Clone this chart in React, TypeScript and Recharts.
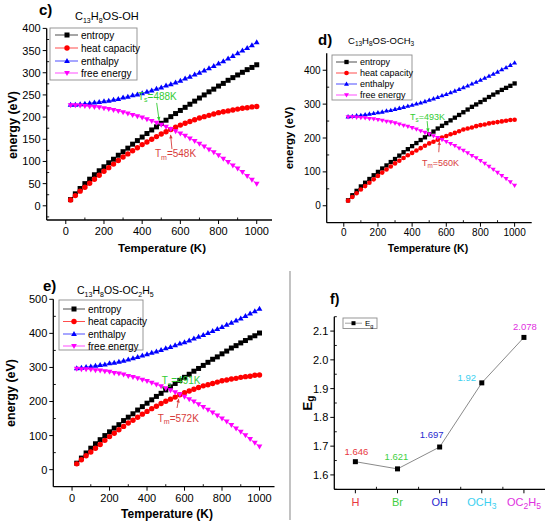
import React from 'react';
import { LineChart, Line, XAxis, YAxis, ReferenceDot, ReferenceLine, LabelList } from 'recharts';

const FONT = '"Liberation Sans", Arial, Helvetica, sans-serif';
const W = 550;
const H = 526;

// ---------------- data ----------------
const temperatures = [25, 50, 75, 100, 125, 150, 175, 200, 225, 250, 275, 300, 325, 350, 375, 400, 425, 450, 475, 500, 525, 550, 575, 600, 625, 650, 675, 700, 725, 750, 775, 800, 825, 850, 875, 900, 925, 950, 975, 1000];

const ohEntropy = [14, 27, 39, 50, 60, 70, 79, 88, 97, 105, 114, 122, 130, 139, 147, 155, 163, 171, 178, 186, 193, 201, 208, 215, 222, 229, 236, 243, 250, 257, 263, 270, 276, 283, 289, 295, 301, 307, 312, 318];
const ohHeatCapacity = [13, 23, 33, 42, 51, 60, 69, 78, 86, 94, 102, 110, 117, 124, 131, 138, 144, 150, 156, 162, 167, 172, 177, 182, 186, 190, 194, 198, 201, 204, 207, 210, 212, 214, 216, 218, 220, 221, 223, 224];
const ohEnthalpy = [228, 228, 229, 230, 231, 233, 234, 236, 237, 239, 241, 244, 246, 249, 251, 254, 257, 260, 264, 267, 271, 274, 278, 282, 287, 291, 296, 300, 305, 310, 315, 321, 326, 332, 338, 344, 350, 356, 362, 369];
const ohFreeEnergy = [227, 227, 226, 225, 224, 223, 222, 220, 218, 216, 214, 211, 208, 205, 202, 199, 195, 191, 187, 183, 178, 173, 168, 163, 158, 152, 146, 140, 134, 127, 121, 114, 106, 99, 91, 84, 76, 67, 59, 50];

const och3Entropy = [16, 31, 44, 57, 68, 79, 90, 100, 110, 119, 129, 138, 148, 158, 167, 176, 185, 194, 202, 211, 219, 228, 236, 244, 252, 260, 268, 276, 284, 292, 299, 306, 313, 321, 328, 335, 342, 348, 354, 361];
const och3HeatCapacity = [15, 26, 37, 48, 58, 68, 78, 88, 98, 107, 116, 125, 133, 141, 149, 156, 163, 170, 177, 184, 189, 195, 201, 206, 211, 215, 220, 225, 228, 231, 235, 238, 240, 243, 245, 247, 249, 251, 253, 254];
const och3Enthalpy = [263, 264, 266, 267, 269, 271, 273, 275, 277, 280, 282, 285, 288, 291, 294, 297, 301, 304, 308, 312, 316, 320, 325, 329, 334, 339, 344, 349, 354, 360, 365, 371, 377, 383, 389, 395, 402, 408, 415, 422];
const och3FreeEnergy = [262, 262, 261, 260, 259, 257, 256, 254, 252, 249, 247, 244, 241, 237, 234, 230, 226, 221, 216, 212, 206, 201, 195, 189, 183, 177, 170, 163, 156, 148, 141, 133, 125, 116, 107, 98, 89, 80, 70, 60];

const oc2h5Entropy = [19, 34, 49, 63, 76, 88, 100, 111, 122, 132, 144, 154, 164, 175, 185, 195, 205, 215, 224, 234, 243, 253, 262, 271, 280, 289, 297, 306, 315, 324, 331, 340, 348, 357, 364, 372, 379, 387, 393, 401];
const oc2h5HeatCapacity = [17, 29, 41, 52, 63, 74, 86, 97, 107, 117, 127, 137, 145, 154, 163, 171, 179, 186, 194, 201, 207, 213, 220, 226, 231, 236, 241, 246, 249, 253, 257, 261, 263, 266, 268, 271, 273, 274, 277, 278];
const oc2h5Enthalpy = [298, 299, 301, 303, 305, 307, 309, 312, 314, 317, 320, 323, 327, 331, 335, 339, 343, 347, 351, 356, 360, 365, 370, 374, 379, 385, 390, 395, 401, 407, 413, 419, 425, 431, 438, 444, 451, 458, 465, 472];
const oc2h5FreeEnergy = [296, 295, 295, 294, 292, 291, 289, 287, 284, 282, 279, 275, 272, 268, 264, 260, 255, 250, 245, 239, 233, 227, 221, 214, 207, 200, 192, 184, 176, 168, 159, 150, 141, 131, 121, 111, 101, 90, 79, 68];

const substituents = ['H', 'Br', 'OH', 'OCH3', 'OC2H5'];
const bandGap = [1.646, 1.621, 1.697, 1.92, 2.078];

const seriesNames = ['entropy', 'heat capacity', 'enthalpy', 'free energy'];
const seriesKeys = ['S', 'Cp', 'H', 'G'];

// ---------------- styles ----------------
const seriesColors = ['#000000', '#ff0000', '#0000ff', '#ff00ff'];
const seriesShapes = ['square', 'circle', 'up', 'down'];
const substituentColors = ['#e8383d', '#3fcf3f', '#2a2ad0', '#3cd0f0', '#e030e0'];
const gapLabelOffsets = [[1, -7], [-1, -9], [-8, -9], [-15, -2], [1, -7]];
const TS_COLOR = '#33cc33';
const TM_COLOR = '#d83c3c';

function buildRows(s: number[], cp: number[], h: number[], g: number[]) {
  return temperatures.map((t, i) => ({ T: t, S: s[i], Cp: cp[i], H: h[i], G: g[i] }));
}

const rowsOH = buildRows(ohEntropy, ohHeatCapacity, ohEnthalpy, ohFreeEnergy);
const rowsOCH3 = buildRows(och3Entropy, och3HeatCapacity, och3Enthalpy, och3FreeEnergy);
const rowsOC2H5 = buildRows(oc2h5Entropy, oc2h5HeatCapacity, oc2h5Enthalpy, oc2h5FreeEnergy);
const rowsGap = substituents.map((s, i) => ({ pos: i + 1, eg: bandGap[i], name: s }));

// ---------------- helpers ----------------
function rich(text: string, sub: number, shift: number) {
  const out: any[] = [];
  const re = /_\{([^}]*)\}/g;
  let last = 0;
  let m: RegExpExecArray | null;
  let k = 0;
  let lowered = false;
  while ((m = re.exec(text))) {
    if (m.index > last) {
      out.push(<tspan key={k++} dy={lowered ? -shift : 0}>{text.slice(last, m.index)}</tspan>);
      lowered = false;
    }
    out.push(<tspan key={k++} fontSize={sub} dy={lowered ? 0 : shift}>{m[1]}</tspan>);
    lowered = true;
    last = re.lastIndex;
  }
  if (last < text.length) out.push(<tspan key={k++} dy={lowered ? -shift : 0}>{text.slice(last)}</tspan>);
  return out;
}

function markerEl(shape: string, color: string, size: number, cx: number, cy: number, key: any) {
  const h = size / 2;
  if (shape === 'square') return <rect key={key} x={cx - h} y={cy - h} width={size} height={size} fill={color} />;
  if (shape === 'circle') return <circle key={key} cx={cx} cy={cy} r={h * 1.08} fill={color} />;
  if (shape === 'up')
    return <polygon key={key} points={`${cx},${cy - h * 1.2} ${cx - h * 1.15},${cy + h * 0.8} ${cx + h * 1.15},${cy + h * 0.8}`} fill={color} />;
  return <polygon key={key} points={`${cx},${cy + h * 1.2} ${cx - h * 1.15},${cy - h * 0.8} ${cx + h * 1.15},${cy - h * 0.8}`} fill={color} />;
}

function dotRenderer(shape: string, color: string, size: number) {
  return (p: any) => {
    const { cx, cy, index } = p;
    if (cx == null || cy == null || isNaN(cx) || isNaN(cy)) return <g key={`e${index}`} />;
    return markerEl(shape, color, size, cx, cy, `d${index}`);
  };
}

function makeXTick(majors: number[], fontSize: number, gap: number) {
  return (p: any) => {
    const { x, y, payload } = p;
    const v = payload.value;
    const major = majors.some((m) => Math.abs(m - v) < 1e-9);
    if (!major) return <line x1={x} x2={x} y1={y} y2={y - 2.5} stroke="#000" strokeWidth={0.9} />;
    return (
      <g>
        <line x1={x} x2={x} y1={y} y2={y + 4} stroke="#000" strokeWidth={1} />
        <text x={x} y={y + gap} textAnchor="middle" fontSize={fontSize} fontFamily={FONT} fill="#000">
          {v}
        </text>
      </g>
    );
  };
}

function makeYTick(majors: number[], fontSize: number, fmt: (v: number) => string) {
  return (p: any) => {
    const { x, y, payload } = p;
    const v = payload.value;
    const major = majors.some((m) => Math.abs(m - v) < 1e-9);
    if (!major) return <line x1={x} x2={x + 2.5} y1={y} y2={y} stroke="#000" strokeWidth={0.9} />;
    return (
      <g>
        <line x1={x} x2={x - 4} y1={y} y2={y} stroke="#000" strokeWidth={1} />
        <text x={x - 6} y={y} dy="0.36em" textAnchor="end" fontSize={fontSize} fontFamily={FONT} fill="#000">
          {fmt(v)}
        </text>
      </g>
    );
  };
}

function arrowShape(color: string) {
  return (p: any) => {
    const { x1, y1, x2, y2 } = p;
    const ang = Math.atan2(y2 - y1, x2 - x1);
    const L = 4;
    const a1 = ang + Math.PI - 0.45;
    const a2 = ang + Math.PI + 0.45;
    return (
      <g>
        <line x1={x1} y1={y1} x2={x2} y2={y2} stroke={color} strokeWidth={0.9} />
        <polygon
          points={`${x2},${y2} ${x2 + L * Math.cos(a1)},${y2 + L * Math.sin(a1)} ${x2 + L * Math.cos(a2)},${y2 + L * Math.sin(a2)}`}
          fill={color}
        />
      </g>
    );
  };
}

function textShape(label: string, color: string, fontSize: number) {
  return (p: any) => (
    <text x={p.cx} y={p.cy} fill={color} fontSize={fontSize} fontFamily={FONT}>
      {rich(label, fontSize * 0.7, fontSize * 0.25)}
    </text>
  );
}

type Ann = { label: string; text: [number, number]; from: [number, number]; to: [number, number]; color: string };

type EnergyProps = {
  rows: any[];
  box: { L: number; T: number; R: number; B: number };
  xDomain: [number, number];
  yDomain: [number, number];
  xMajors: number[];
  xMinors: number[];
  yMajors: number[];
  yMinors: number[];
  tickFont: number;
  xGap: number;
  mSize: number;
  anns: Ann[];
  annFont: number;
};

function EnergyChart(props: EnergyProps) {
  const { rows, box, xDomain, yDomain, xMajors, xMinors, yMajors, yMinors, tickFont, xGap, mSize, anns, annFont } = props;
  return (
    <div style={{ position: 'absolute', left: 0, top: 0 }}>
      <LineChart width={W} height={H} data={rows} margin={{ top: box.T, right: W - box.R, bottom: 0, left: 0 }}>
        <XAxis
          dataKey="T"
          type="number"
          domain={xDomain}
          allowDataOverflow
          ticks={[...xMajors, ...xMinors]}
          interval={0}
          height={H - box.B}
          tickSize={0}
          tickMargin={0}
          tickLine={false}
          axisLine={{ stroke: '#000', strokeWidth: 1.3 }}
          tick={makeXTick(xMajors, tickFont, xGap)}
        />
        <YAxis
          type="number"
          domain={yDomain}
          allowDataOverflow
          ticks={[...yMajors, ...yMinors]}
          interval={0}
          width={box.L}
          tickSize={0}
          tickMargin={0}
          tickLine={false}
          axisLine={{ stroke: '#000', strokeWidth: 1.3 }}
          tick={makeYTick(yMajors, tickFont, (v) => String(v))}
        />
        {seriesKeys.map((k, i) => (
          <Line
            key={k}
            dataKey={k}
            type="linear"
            stroke={seriesColors[i]}
            strokeWidth={0.7}
            dot={dotRenderer(seriesShapes[i], seriesColors[i], mSize)}
            activeDot={false}
            isAnimationActive={false}
          />
        ))}
        {anns.map((a, i) => (
          <ReferenceLine
            key={`al${i}`}
            segment={[{ x: a.from[0], y: a.from[1] }, { x: a.to[0], y: a.to[1] }]}
            shape={arrowShape(a.color)}
          />
        ))}
        {anns.map((a, i) => (
          <ReferenceDot key={`at${i}`} x={a.text[0]} y={a.text[1]} r={0} shape={textShape(a.label, a.color, annFont)} />
        ))}
      </LineChart>
    </div>
  );
}

function GapChart() {
  const box = { L: 334.3, T: 316.7, R: 545, B: 489.3 };
  const majorsX = [1, 2, 3, 4, 5];
  const minorsX = [1.5, 2.5, 3.5, 4.5];
  const majorsY = [1.6, 1.7, 1.8, 1.9, 2.0, 2.1];
  const minorsY = [1.55, 1.65, 1.75, 1.85, 1.95, 2.05, 2.15];
  const xTick = (p: any) => {
    const { x, y, payload } = p;
    const v = payload.value;
    const major = Math.abs(v - Math.round(v)) < 1e-9;
    if (!major) return <line x1={x} x2={x} y1={y} y2={y - 2.5} stroke="#000" strokeWidth={0.9} />;
    const idx = Math.round(v) - 1;
    const label = substituents[idx].replace(/(\d+)/g, '_{$1}');
    return (
      <g>
        <line x1={x} x2={x} y1={y} y2={y + 4} stroke="#000" strokeWidth={1} />
        <text x={x} y={y + 17} textAnchor="middle" fontSize={11} fontFamily={FONT} fill={substituentColors[idx]}>
          {rich(label, 8.5, 3)}
        </text>
      </g>
    );
  };
  return (
    <div style={{ position: 'absolute', left: 0, top: 0 }}>
      <LineChart width={W} height={H} data={rowsGap} margin={{ top: box.T, right: W - box.R, bottom: 0, left: 0 }}>
        <XAxis
          dataKey="pos"
          type="number"
          domain={[0.5, 5.5]}
          allowDataOverflow
          ticks={[...majorsX, ...minorsX]}
          interval={0}
          height={H - box.B}
          tickSize={0}
          tickMargin={0}
          tickLine={false}
          axisLine={{ stroke: '#000', strokeWidth: 1.3 }}
          tick={xTick}
        />
        <YAxis
          type="number"
          domain={[1.55, 2.15]}
          allowDataOverflow
          ticks={[...majorsY, ...minorsY]}
          interval={0}
          width={box.L}
          tickSize={0}
          tickMargin={0}
          tickLine={false}
          axisLine={{ stroke: '#000', strokeWidth: 1.3 }}
          tick={makeYTick(majorsY, 11, (v) => v.toFixed(1))}
        />
        <Line
          dataKey="eg"
          type="linear"
          stroke="#8a8a8a"
          strokeWidth={1}
          dot={dotRenderer('square', '#000', 5)}
          activeDot={false}
          isAnimationActive={false}
        >
          <LabelList
            dataKey="eg"
            content={(p: any) => {
              const i = p.index;
              const off = gapLabelOffsets[i] || [0, -8];
              return (
                <text
                  x={p.x + off[0]}
                  y={p.y + off[1]}
                  textAnchor="middle"
                  fontSize={9.5}
                  fontFamily={FONT}
                  fill={substituentColors[i]}
                >
                  {String(p.value)}
                </text>
              );
            }}
          />
        </Line>
      </LineChart>
    </div>
  );
}

function Legend({ x, y, w, h, rows, lineX, markX, textX, fontSize, mSize }: any) {
  return (
    <g>
      <rect x={x} y={y} width={w} height={h} fill="#fff" stroke="#8c8c8c" strokeWidth={0.9} />
      {seriesNames.map((n, i) => (
        <g key={n}>
          <line x1={lineX[0]} x2={lineX[1]} y1={rows[i]} y2={rows[i]} stroke={seriesColors[i]} strokeWidth={0.7} />
          {markerEl(seriesShapes[i], seriesColors[i], mSize, markX, rows[i], 'm')}
          <text x={textX} y={rows[i]} dy="0.35em" fontSize={fontSize} fontFamily={FONT} fill="#000">
            {n}
          </text>
        </g>
      ))}
    </g>
  );
}

function Overlay() {
  return (
    <svg width={W} height={H} style={{ position: 'absolute', left: 0, top: 0, pointerEvents: 'none' }} fontFamily={FONT}>
      {/* panel c */}
      <text x={39} y={15} fontSize={15} fontWeight="bold">c)</text>
      <text x={75} y={20} fontSize={11}>{rich('C_{13}H_{8}OS-OH', 7, 2.5)}</text>
      <text transform="translate(12.5,125) rotate(-90)" textAnchor="middle" dominantBaseline="central" fontSize={12.5} fontWeight="bold">
        energy (eV)
      </text>
      <text x={162} y={252} textAnchor="middle" fontSize={11.5} fontWeight="bold">Temperature (K)</text>
      <Legend x={50} y={28} w={87} h={52} rows={[35, 48, 61, 73]} lineX={[55, 78]} markX={67} textX={81} fontSize={10} mSize={5} />

      {/* panel d */}
      <text x={318} y={45} fontSize={15} fontWeight="bold">d)</text>
      <text x={348} y={44} fontSize={9.5}>{rich('C_{13}H_{8}OS-OCH_{3}', 6.5, 2.2)}</text>
      <text transform="translate(288.5,138) rotate(-90)" textAnchor="middle" dominantBaseline="central" fontSize={11.5} fontWeight="bold">
        energy (eV)
      </text>
      <text x={428} y={252} textAnchor="middle" fontSize={10.5} fontWeight="bold">Temperature (K)</text>
      <Legend x={332} y={55} w={80} h={45} rows={[62, 73, 84, 95]} lineX={[336, 357]} markX={346.5} textX={360} fontSize={9} mSize={4.3} />

      {/* panel e */}
      <text x={43} y={291} fontSize={15} fontWeight="bold">e)</text>
      <text x={77} y={294} fontSize={10.5}>{rich('C_{13}H_{8}OS-OC_{2}H_{5}', 7, 2.5)}</text>
      <text transform="translate(11,393) rotate(-90)" textAnchor="middle" dominantBaseline="central" fontSize={12.5} fontWeight="bold">
        energy (eV)
      </text>
      <text x={167} y={518} textAnchor="middle" fontSize={12} fontWeight="bold">Temperature (K)</text>
      <Legend x={59} y={300} w={84} h={50} rows={[309, 321.5, 334, 346]} lineX={[63, 85]} markX={74} textX={88} fontSize={10} mSize={5} />

      {/* panel f */}
      <line x1={290} x2={290} y1={271} y2={520} stroke="#9a9a9a" strokeWidth={1.2} />
      <text x={330} y={304} fontSize={14} fontWeight="bold">f)</text>
      <text transform="translate(307,403) rotate(-90)" textAnchor="middle" dominantBaseline="central" fontSize={13} fontWeight="bold">
        {rich('E_{g}', 10, 3)}
      </text>
      <rect x={343} y={318} width={34} height={10.5} fill="#fff" stroke="#8c8c8c" strokeWidth={0.9} />
      <line x1={345} x2={362} y1={323.2} y2={323.2} stroke="#8a8a8a" strokeWidth={0.8} />
      {markerEl('square', '#000', 4, 353.5, 323.2, 'fm')}
      <text x={365} y={326.3} fontSize={8}>{rich('E_{g}', 5.5, 1.5)}</text>
    </svg>
  );
}

export default function App() {
  return (
    <div style={{ position: 'absolute', left: 0, top: 0, width: W, height: H, background: '#fff', overflow: 'hidden' }}>
      <EnergyChart
        rows={rowsOH}
        box={{ L: 46.7, T: 28.4, R: 272, B: 220 }}
        xDomain={[-100, 1080]}
        yDomain={[-32, 400]}
        xMajors={[0, 200, 400, 600, 800, 1000]}
        xMinors={[100, 300, 500, 700, 900]}
        yMajors={[0, 50, 100, 150, 200, 250, 300, 350, 400]}
        yMinors={[-25, 25, 75, 125, 175, 225, 275, 325, 375]}
        tickFont={11}
        xGap={15}
        mSize={5}
        annFont={10}
        anns={[
          { label: 'T_{s}=488K', text: [378, 239], from: [476, 232], to: [489, 192], color: TS_COLOR },
          { label: 'T_{m}=548K', text: [467, 110], from: [556, 128], to: [549, 160], color: TM_COLOR },
        ]}
      />
      <EnergyChart
        rows={rowsOCH3}
        box={{ L: 326.7, T: 53.3, R: 531.7, B: 222.7 }}
        xDomain={[-100, 1100]}
        yDomain={[-50, 450]}
        xMajors={[0, 200, 400, 600, 800, 1000]}
        xMinors={[100, 300, 500, 700, 900]}
        yMajors={[0, 100, 200, 300, 400]}
        yMinors={[50, 150, 250, 350]}
        tickFont={10}
        xGap={13}
        mSize={4.3}
        annFont={9}
        anns={[
          { label: 'T_{s}=493K', text: [388, 254], from: [488, 250], to: [494, 218], color: TS_COLOR },
          { label: 'T_{m}=560K', text: [458, 118], from: [556, 158], to: [560, 190], color: TM_COLOR },
        ]}
      />
      <EnergyChart
        rows={rowsOC2H5}
        box={{ L: 53.3, T: 299.3, R: 274.5, B: 486.7 }}
        xDomain={[-100, 1080]}
        yDomain={[-50, 500]}
        xMajors={[0, 200, 400, 600, 800, 1000]}
        xMinors={[100, 300, 500, 700, 900]}
        yMajors={[0, 100, 200, 300, 400, 500]}
        yMinors={[50, 150, 250, 350, 450]}
        tickFont={11}
        xGap={15.5}
        mSize={5}
        annFont={10}
        anns={[
          { label: 'T_{s}=491K', text: [478, 250], from: [484, 246], to: [490, 234], color: TS_COLOR },
          { label: 'T_{m}=572K', text: [457, 140], from: [560, 181], to: [569, 208], color: TM_COLOR },
        ]}
      />
      <GapChart />
      <Overlay />
    </div>
  );
}
